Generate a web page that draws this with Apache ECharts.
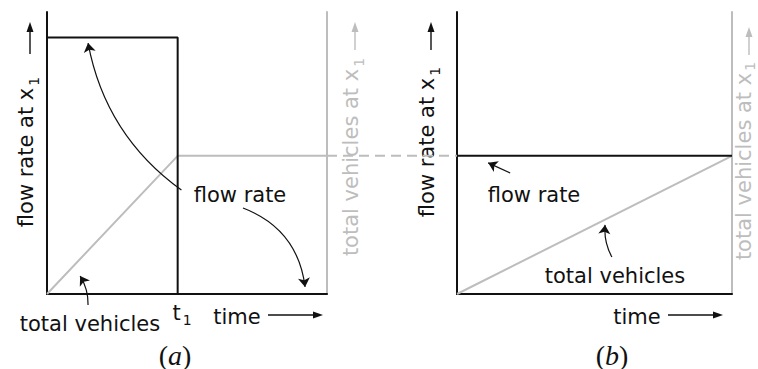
<!DOCTYPE html>
<html>
<head>
<meta charset="utf-8">
<script src="https://cdn.jsdelivr.net/npm/echarts@6/dist/echarts.min.js"></script>
<style>
  html, body { margin: 0; padding: 0; background: #ffffff; }
  #chart { width: 758px; height: 369px; }
</style>
</head>
<body>
<div id="chart"></div>
<script>
// Shared scales: time runs 0..6 in both panels, values 0..10.
const timeMax = 6;
const valueMax = 10;
const t1 = 2.8;                 // end of the high-flow period in panel (a)

// Panel (a): high flow until t1, then nothing; cumulative count levels off.
const flowTimeA = [0, t1, t1];
const flowRateA = [9.1, 9.1, 0];
const totalTimeA = [0, t1, timeMax];
const totalVehA = [0, 4.9, 4.9];

// Panel (b): steady flow, cumulative count grows linearly to the same total.
const flowTimeB = [0, timeMax];
const flowRateB = [4.9, 4.9];
const totalTimeB = [0, timeMax];
const totalVehB = [0, 4.9];

// Dashed guide carrying the final total from panel (a) across to panel (b).
const guideX = [0, 1];
const guideLevel = [4.9, 4.9];

const BLACK = '#111111';
const GRAY = '#bdbdbd';
const FONT = '"DejaVu Sans", sans-serif';
const SIZE = 21;

const zip = (xs, ys) => xs.map((x, i) => [x, ys[i]]);

// rich-text styles: a lowered, smaller "1" for the x₁ / t₁ subscripts
function richFor(color, drop) {
  return {
    m: { fontFamily: FONT, fontSize: SIZE, fill: color, color: color },
    s: { fontFamily: FONT, fontSize: 14, fill: color, color: color,
         verticalAlign: 'bottom', padding: [drop == null ? 15 : drop, 0, 0, 2] }
  };
}

function plainAxis(grid, extra) {
  return Object.assign({
    gridIndex: grid, type: 'value',
    axisTick: { show: false }, axisLabel: { show: false }, splitLine: { show: false }
  }, extra);
}
function edge(color) {
  return { show: true, onZero: false, lineStyle: { color: color, width: 2 } };
}

function lineSeries(xi, yi, data, color, dashed) {
  return {
    type: 'line', xAxisIndex: xi, yAxisIndex: yi, data: data,
    symbol: 'none', silent: true, animation: false,
    lineStyle: { color: color, width: 2, type: dashed ? [10, 6] : 'solid' }
  };
}
function calloutSeries(xi, yi, items) {
  return {
    type: 'lines', coordinateSystem: 'cartesian2d', xAxisIndex: xi, yAxisIndex: yi,
    clip: false, silent: true, animation: false, z: 5,
    symbol: ['none', 'arrow'], symbolSize: 9,
    lineStyle: { color: BLACK, width: 1.2, opacity: 1 },
    data: items.map(it => ({ coords: it.coords, lineStyle: { curveness: it.curve } }))
  };
}

function text(x, y, str, opts) {
  opts = opts || {};
  const color = opts.color || BLACK;
  return {
    type: 'text', x: x, y: y, rotation: opts.rot || 0, z: 1,
    style: {
      text: str, fill: color,
      font: SIZE + 'px ' + FONT,
      align: 'center', verticalAlign: 'middle',
      rich: richFor(color, opts.drop)
    }
  };
}
function upArrow(x, yFrom, yTo, color) {
  return [
    { type: 'line', shape: { x1: x, y1: yFrom, x2: x, y2: yTo + 8 }, style: { stroke: color, lineWidth: 1.4 } },
    { type: 'polygon', shape: { points: [[x, yTo], [x - 3.5, yTo + 10], [x + 3.5, yTo + 10]] }, style: { fill: color } }
  ];
}
function rightArrow(xFrom, xTo, y, color) {
  return [
    { type: 'line', shape: { x1: xFrom, y1: y, x2: xTo - 8, y2: y }, style: { stroke: color, lineWidth: 1.4 } },
    { type: 'polygon', shape: { points: [[xTo, y], [xTo - 10, y - 3.5], [xTo - 10, y + 3.5]] }, style: { fill: color } }
  ];
}
function caption(x, y, letter) {
  const serif = '"Liberation Serif", serif';
  return {
    type: 'text', x: x, y: y,
    style: {
      text: '{p|(}{i|' + letter + '}{p|)}', fill: BLACK,
      font: '28px ' + serif,
      align: 'center', verticalAlign: 'middle',
      rich: {
        p: { fontFamily: serif, fontSize: 28, fill: BLACK },
        i: { fontFamily: serif, fontSize: 28, fontStyle: 'italic', fill: BLACK }
      }
    }
  };
}

const chart = echarts.init(document.getElementById('chart'), null, { renderer: 'svg' });

chart.setOption({
  backgroundColor: '#ffffff',
  animation: false,
  grid: [
    { left: 47, top: 12, width: 280, height: 282 },
    { left: 457, top: 12, width: 275, height: 282 },
    { left: 327, top: 12, width: 130, height: 282 }
  ],
  xAxis: [
    plainAxis(0, {
      min: 0, max: timeMax, axisLine: edge(BLACK),
      axisLabel: {
        show: true, customValues: [t1], formatter: () => '{m|t}{s|1}',
        margin: 4, padding: [0, 0, 0, 9], rich: richFor(BLACK)
      }
    }),
    plainAxis(1, { min: 0, max: timeMax, axisLine: edge(BLACK) }),
    plainAxis(2, { show: false, min: 0, max: 1 })
  ],
  yAxis: [
    plainAxis(0, { position: 'left', min: 0, max: valueMax, axisLine: edge(BLACK) }),
    plainAxis(0, { position: 'right', min: 0, max: valueMax, axisLine: edge(GRAY) }),
    plainAxis(1, { position: 'left', min: 0, max: valueMax, axisLine: edge(BLACK) }),
    plainAxis(1, { position: 'right', min: 0, max: valueMax, axisLine: edge(GRAY) }),
    plainAxis(2, { show: false, min: 0, max: valueMax })
  ],
  series: [
    lineSeries(0, 0, zip(totalTimeA, totalVehA), GRAY),
    lineSeries(0, 0, zip(flowTimeA, flowRateA), BLACK),
    lineSeries(1, 2, zip(totalTimeB, totalVehB), GRAY),
    lineSeries(1, 2, zip(flowTimeB, flowRateB), BLACK),
    lineSeries(2, 4, zip(guideX, guideLevel), GRAY, true),
    calloutSeries(0, 0, [
      { coords: [[2.88, 3.69], [0.88, 8.90]], curve: 0.2 },
      { coords: [[4.20, 3.05], [5.53, 0.25]], curve: 0.3 },
      { coords: [[0.88, -0.39], [0.71, 0.64]], curve: -0.15 }
    ]),
    calloutSeries(1, 2, [
      { coords: [[1.16, 4.29], [0.68, 4.65]], curve: 0 },
      { coords: [[3.38, 1.31], [3.23, 2.45]], curve: 0.15 }
    ])
  ],
  graphic: [
    // axis titles
    text(26, 152, '{m|flow rate at x}{s|1}', { rot: Math.PI / 2 }),
    ...upArrow(30, 54, 22, BLACK),
    text(351, 157, '{m|total vehicles at x}{s|1}', { rot: Math.PI / 2, color: GRAY }),
    ...upArrow(355, 50, 22, GRAY),
    text(427, 142, '{m|flow rate at x}{s|1}', { rot: Math.PI / 2 }),
    ...upArrow(431, 50, 22, BLACK),
    text(744, 161, '{m|total vehicles at x}{s|1}', { rot: Math.PI / 2, color: GRAY, drop: 11 }),
    ...upArrow(749, 55, 27, GRAY),
    text(237, 317, 'time'),
    ...rightArrow(268, 323, 315, BLACK),
    text(637, 317, 'time'),
    ...rightArrow(668, 723, 315, BLACK),
    // callout labels
    text(240, 195, 'flow rate'),
    text(90, 324, 'total vehicles'),
    text(534, 195, 'flow rate'),
    text(615, 276, 'total vehicles'),
    // panel captions
    caption(175, 355, 'a'),
    caption(612, 355, 'b')
  ]
});
</script>
</body>
</html>
